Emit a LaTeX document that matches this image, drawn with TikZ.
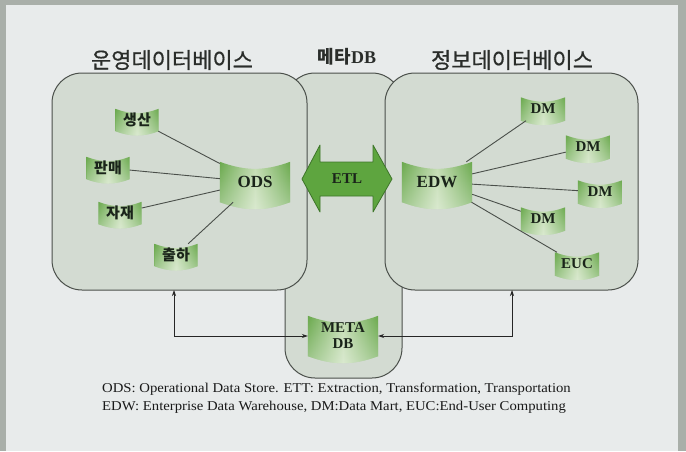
\documentclass[tikz,border=0pt]{standalone}
\usepackage{fontspec}
\setmainfont{Liberation Serif}
\newfontfamily\cjk{Noto Sans CJK KR}
\newfontfamily\cjktitle[FakeBold=0.6]{Noto Sans CJK KR}
\usetikzlibrary{arrows.meta,fadings}
\pgfdeclarelayer{boxes}
\pgfdeclarelayer{banners}
\pgfsetlayers{boxes,banners,main}
\definecolor{frame}{HTML}{A9AFA9}
\definecolor{paper}{HTML}{E8EBEB}
\definecolor{boxfill}{HTML}{D3DBD2}
\definecolor{boxline}{HTML}{4A4F4A}
\definecolor{gedge}{HTML}{6AA94D}
\definecolor{gmid}{HTML}{C3DCB2}
\definecolor{arrowg}{HTML}{5EA53F}
\definecolor{arrowd}{HTML}{3D7529}
\definecolor{ink}{HTML}{1A241A}
\definecolor{titleink}{HTML}{2A2D2A}
\tikzfading[name=fadeup, top color=transparent!100, bottom color=transparent!0]
\newcommand\banner[2][20]{%
  \begin{pgfonlayer}{banners}
  \path[left color=gedge,right color=gedge,middle color=gmid]
    (#2.north west) to[bend right=#1] (#2.north east) -- (#2.south east)
    to[bend left=#1] (#2.south west) -- cycle;
  \fill[white,opacity=0.4,path fading=fadeup]
    (#2.north west) to[bend right=#1] (#2.north east) -- (#2.south east)
    to[bend left=#1] (#2.south west) -- cycle;
  \end{pgfonlayer}}
\tikzset{
  lab/.style={inner sep=0pt, minimum width=43, minimum height=22,
    font=\cjk\bfseries\fontsize{15}{15}\selectfont, text=ink},
  big/.style={inner sep=0pt, minimum width=70, minimum height=40,
    font=\bfseries\fontsize{17}{17}\selectfont, text=ink},
  dm/.style={inner sep=0pt, minimum width=44, minimum height=23,
    font=\bfseries\fontsize{15}{15}\selectfont, text=ink},
  conn/.style={draw=boxline, line width=0.9pt},
  link/.style={draw=black!85, line width=0.7pt, {Stealth[length=6pt,width=4pt]}-{Stealth[length=6pt,width=4pt]}},
  area/.style={draw=boxline, fill=boxfill, line width=1pt, rounded corners=30, inner sep=0pt},
  title/.style={font=\cjktitle\fontsize{22}{22}\selectfont, text=titleink, inner sep=0pt},
  captext/.style={anchor=west, inner sep=0pt, font=\fontsize{13.5}{13.5}\selectfont, text=black!90}
}
\begin{document}
\begin{tikzpicture}[x=1pt,y=-1pt]
\useasboundingbox (0,0) rectangle (686,451);
\begin{pgfonlayer}{boxes}
\fill[frame] (0,0) rectangle (686,451);
\fill[paper] (6,5) rectangle (678,451);
\node[area, minimum width=117, minimum height=305] (metabox) at (343.5,225.5) {};
\node[area, minimum width=255, minimum height=217] (opbox) at (179.5,181.5) {};
\node[area, minimum width=253, minimum height=217] (infobox) at (511.5,181.5) {};
\end{pgfonlayer}

\node[title] (t1) at (172,60) {운영데이터베이스};
\node[title, font=\fontsize{18}{18}\selectfont\bfseries] (t2) at (347,57) {{\cjk 메타}DB};
\node[title] (t3) at (512,60) {정보데이터베이스};

% operational side
\node[lab] (sa) at (137,120) {생산};
\node[lab] (pa) at (108,168) {판매};
\node[lab] (ja) at (120,213) {자재};
\node[lab] (ch) at (176,255) {출하};
\node[big] (ods) at (255,182) {ODS};
\foreach \n in {sa,pa,ja,ch,ods} {\banner{\n}}
\foreach \n in {sa,pa,ja,ch} {\draw[conn] (\n) -- (ods);}

% information side
\node[big] (edw) at (437,182) {EDW};
\node[dm] (dm1) at (543,109) {DM};
\node[dm] (dm2) at (588,147) {DM};
\node[dm] (dm3) at (600,192) {DM};
\node[dm] (dm4) at (543,219) {DM};
\node[dm] (euc) at (577,264) {EUC};
\foreach \n in {edw,dm1,dm2,dm3,dm4,euc} {\banner{\n}}
\foreach \n in {dm1,dm2,dm3,dm4,euc} {\draw[conn] (edw) -- (\n);}

% ETL double arrow
\node[inner sep=0pt, font=\bfseries\fontsize{15}{15}\selectfont, text=ink] (etl) at (347,179) {ETL};
\begin{pgfonlayer}{banners}
\draw[fill=arrowg, draw=arrowd, line width=0.8pt, line join=round]
  (302,179) -- (320,145) -- (320,162) -- (373,162) -- (373,145) -- (392,179)
  -- (373,212) -- (373,196) -- (320,196) -- (320,212) -- cycle;
\end{pgfonlayer}

% meta DB
\node[big, align=center, font=\bfseries\fontsize{15}{16}\selectfont] (meta) at (343,336) {META\\DB};
\banner{meta}
\coordinate (la) at (174,290);
\coordinate (ra) at (512,290);
\draw[link] (la) |- (meta.west);
\draw[link] (ra) |- (meta.east);

% caption
\node[captext] (c1) at (102,389) {\scalebox{1.09}[1]{ODS: Operational Data Store. ETT: Extraction, Transformation, Transportation}};
\node[captext] (c2) at (102,407) {\scalebox{1.09}[1]{EDW: Enterprise Data Warehouse, DM:Data Mart, EUC:End-User Computing}};
\end{tikzpicture}
\end{document}
